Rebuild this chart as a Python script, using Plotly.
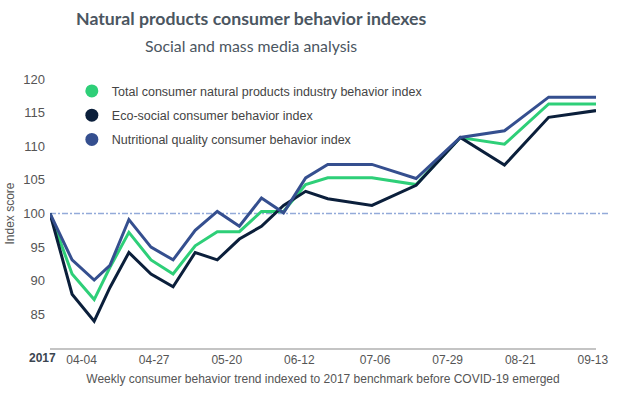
import plotly.graph_objects as go

dates = ["2020-03-25", "2020-04-01", "2020-04-08", "2020-04-13", "2020-04-19",
         "2020-04-26", "2020-05-03", "2020-05-10", "2020-05-17", "2020-05-24",
         "2020-05-31", "2020-06-07", "2020-06-14", "2020-06-21", "2020-07-05",
         "2020-07-19", "2020-08-02", "2020-08-16", "2020-08-30", "2020-09-14"]

total_idx = [100, 91, 87.2, 92, 97.2, 93.1, 91, 95.2, 97.3, 97.3,
             100.3, 100.3, 104.3, 105.3, 105.3, 104.3, 111.3, 110.3, 116.3, 116.3]
eco_idx = [100, 88, 84, 89, 94.2, 91, 89.1, 94.2, 93.1, 96.2,
           98.1, 101.2, 103.3, 102.2, 101.2, 104.2, 111.3, 107.2, 114.3, 115.3]
nutri_idx = [100, 93.1, 90.1, 92.3, 99.1, 95, 93.1, 97.5, 100.3, 98.1,
             102.3, 100.1, 105.3, 107.3, 107.3, 105.2, 111.3, 112.3, 117.3, 117.3]

series_names = ["Total consumer natural products industry behavior index",
                "Eco-social consumer behavior index",
                "Nutritional quality consumer behavior index"]
series_colors = ["#2ecf78", "#0b1f3b", "#354f8f"]

tick_dates = ["2020-04-04", "2020-04-27", "2020-05-20", "2020-06-12",
              "2020-07-06", "2020-07-29", "2020-08-21", "2020-09-13"]
tick_labels = ["04-04", "04-27", "05-20", "06-12", "07-06", "07-29", "08-21", "09-13"]
first_label = "2017"
y_ticks = [85, 90, 95, 100, 105, 110, 115, 120]
baseline = 100

fig = go.Figure()
for vals, color in zip([total_idx, eco_idx, nutri_idx], series_colors):
    fig.add_trace(go.Scatter(x=dates, y=vals, mode="lines",
                             line=dict(color=color, width=3),
                             showlegend=False, hoverinfo="x+y"))
for i, (name, color) in enumerate(zip(series_names, series_colors)):
    fig.add_trace(go.Scatter(x=[None], y=[None], mode="markers", name=name,
                             legendgroup=f"g{i}",
                             marker=dict(color=color, size=13, symbol="circle")))

fig.add_shape(type="line", xref="paper", yref="y", x0=0, x1=1.022,
              y0=baseline, y1=baseline,
              line=dict(color="#93aad9", width=1.5, dash="6px,2px,2px,2px"),
              layer="below")

title_x = (251 - 50) / 546
fig.add_annotation(text="<b>Natural products consumer behavior indexes</b>",
                   xref="paper", yref="paper", x=title_x, y=1,
                   yshift=61, showarrow=False, xanchor="center", yanchor="middle",
                   font=dict(family="Lato", size=17.7, color="#4b5661"))
fig.add_annotation(text="Social and mass media analysis",
                   xref="paper", yref="paper", x=title_x, y=1,
                   yshift=34, showarrow=False, xanchor="center", yanchor="middle",
                   font=dict(family="Lato", size=15.8, color="#4b5661"))
fig.add_annotation(text=f"<b>{first_label}</b>", xref="x", yref="paper",
                   x=dates[0], y=0, yshift=-10, xshift=-8, showarrow=False,
                   xanchor="center", yanchor="middle",
                   font=dict(family="Liberation Sans, Arial", size=12, color="#3b4550"))

fig.update_layout(
    width=620, height=393,
    margin=dict(l=50, r=24, t=79, b=45, autoexpand=False),
    paper_bgcolor="white", plot_bgcolor="white",
    font=dict(family="Liberation Sans, Arial", size=12, color="#555555"),
    legend=dict(x=0.04, y=1.01, xanchor="left", yanchor="top",
                bgcolor="rgba(0,0,0,0)", tracegroupgap=5,
                font=dict(size=12.5, color="#444444")),
    xaxis=dict(type="date", range=[dates[0], dates[-1]],
               tickvals=tick_dates, ticktext=tick_labels, automargin=False,
               showgrid=False, zeroline=False, showline=True,
               linecolor="#c4c4c4", linewidth=2, ticks="",
               tickfont=dict(size=12, color="#555555"),
               title=dict(text="Weekly consumer behavior trend indexed to 2017 benchmark before COVID-19 emerged",
                          font=dict(size=12, color="#555555"), standoff=8)),
    yaxis=dict(range=[80, 120], tickvals=y_ticks, showgrid=False, automargin=False,
               zeroline=False, showline=False, ticks="", ticklabelstandoff=4,
               tickfont=dict(size=13, color="#555555"),
               title=dict(text="Index score", font=dict(size=12, color="#555555"),
                          standoff=6)),
)

fig.write_html("out.html", config={"displayModeBar": False},
               post_script="document.body.style.margin='0px';document.body.style.overflow='hidden';")
